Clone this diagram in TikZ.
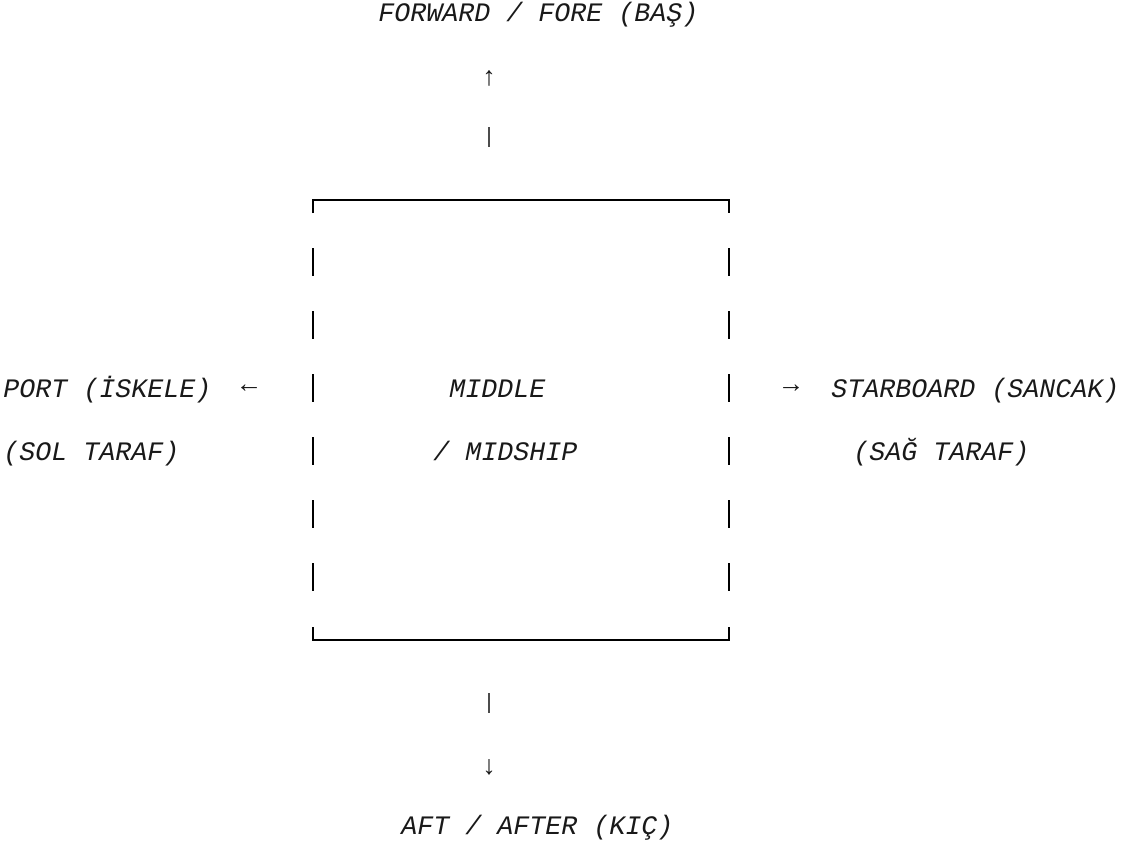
\documentclass[tikz,border=0pt]{standalone}
\usepackage{fontspec}
\setmonofont{Liberation Mono}
\begin{document}
\begin{tikzpicture}[x=0.75pt,y=-0.75pt,
  lbl/.style={font=\ttfamily\itshape\fontsize{20}{24}\selectfont, inner sep=0pt, anchor=base west, text=black!90},
  arr/.style={font=\ttfamily\fontsize{20}{24}\selectfont, inner sep=0pt, text=black!90},
  frame/.style={line width=1.5pt, line cap=butt, line join=miter},
  thinbar/.style={line width=0.9pt, draw=black!70}]
\useasboundingbox (0,0) rectangle (1121,847);

% top label and pointer
\node[lbl] (fwd) at (378,21) {FORWARD / FORE (BAŞ)};
\node[arr] (up) at (489,78) {↑};
\coordinate (tbA) at (489,127);
\coordinate (tbB) at (489,147);
\draw[thinbar] (tbA) -- (tbB);

% box frame
\coordinate (tl) at (313,200);
\coordinate (tr) at (729,200);
\coordinate (bl) at (313,640);
\coordinate (br) at (729,640);
\coordinate (tlT) at (313,213);
\coordinate (trT) at (729,213);
\coordinate (blT) at (313,627);
\coordinate (brT) at (729,627);
\draw[frame] (tlT) -- (tl) -- (tr) -- (trT);
\draw[frame] (blT) -- (bl) -- (br) -- (brT);
\foreach \yc in {262,325,388,451,514,577}{
  \draw[frame] (313,\yc-14) -- (313,\yc+14);
  \draw[frame] (729,\yc-14) -- (729,\yc+14);
}

% side labels
\node[lbl] (port) at (3,397) {PORT (İSKELE)};
\node[arr] (left) at (249,389) {←};
\node[lbl] (sol) at (3,460) {(SOL TARAF)};
\node[lbl] (mid) at (449,397) {MIDDLE};
\node[lbl] (midship) at (433,460) {/ MIDSHIP};
\node[arr] (right) at (791,389) {→};
\node[lbl] (stb) at (831,397) {STARBOARD (SANCAK)};
\node[lbl] (sag) at (853,460) {(SAĞ TARAF)};

% bottom pointer and label
\coordinate (bbA) at (489,693);
\coordinate (bbB) at (489,713);
\draw[thinbar] (bbA) -- (bbB);
\node[arr] (down) at (489,767) {↓};
\node[lbl] (aft) at (401,834) {AFT / AFTER (KIÇ)};
\end{tikzpicture}
\end{document}
